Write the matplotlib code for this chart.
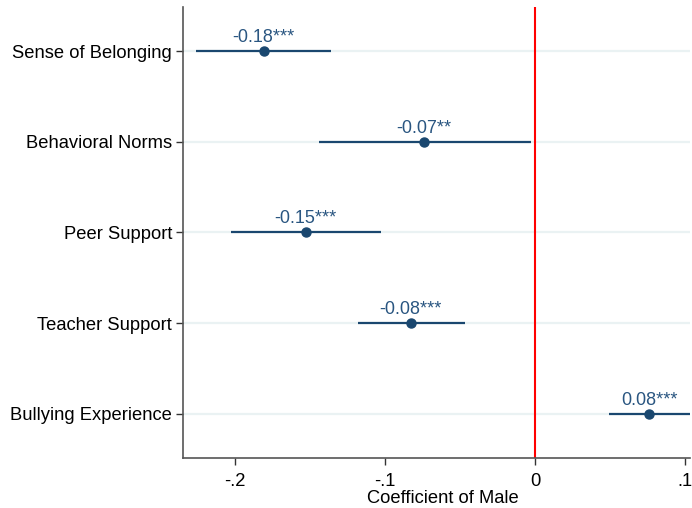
"""Coefficient plot: gender gap in school climate measures."""

import matplotlib
matplotlib.use("Agg")
import matplotlib.pyplot as plt

outcomes = ["Sense of Belonging", "Behavioral Norms", "Peer Support",
            "Teacher Support", "Bullying Experience"]
coef = [-0.181, -0.074, -0.153, -0.083, 0.076]
ci_low = [-0.226, -0.144, -0.203, -0.118, 0.049]
ci_high = [-0.136, -0.003, -0.103, -0.047, 0.104]
labels = ["-0.18***", "-0.07**", "-0.15***", "-0.08***", "0.08***"]

NAVY = "#1a476f"
LABEL_COL = "#2a5681"

plt.rcParams["font.family"] = ["Liberation Sans", "DejaVu Sans"]

fig = plt.figure(figsize=(6.92, 5.08), dpi=100)
ax = fig.add_axes([0.2645, 0.0984, 0.733, 0.888])

ypos = list(range(1, len(outcomes) + 1))

for y in ypos:
    ax.axhline(y, color="#eaf2f3", lw=1.6, zorder=0)

ax.axvline(0, color="red", lw=1.5, zorder=1)

ax.hlines(ypos, ci_low, ci_high, color=NAVY, lw=1.6, zorder=2)
ax.plot(coef, ypos, "o", color=NAVY, ms=6.5, zorder=3)

for x, y, lab in zip(coef, ypos, labels):
    ax.annotate(lab, (x, y), xytext=(0, 6.5),
                textcoords="offset points", ha="center", va="baseline",
                color=LABEL_COL, fontsize=13)

ax.set_xlim(-0.2347, 0.1033)
ax.set_ylim(5.49, 0.51)
ax.set_yticks(ypos)
ax.set_yticklabels(outcomes, fontsize=13.25)
ax.set_xticks([-0.2, -0.1, 0, 0.1])
ax.set_xticklabels(["-.2", "-.1", "0", ".1"], fontsize=13.25)
ax.set_xlabel("Coefficient of Male", fontsize=13.25)
ax.xaxis.set_label_coords(0.513, -0.072)

ax.spines["top"].set_visible(False)
ax.spines["right"].set_visible(False)
for side in ("left", "bottom"):
    ax.spines[side].set_color("#555555")
    ax.spines[side].set_linewidth(1.2)
ax.tick_params(axis="both", direction="out", length=5, width=1, color="#333333")
ax.tick_params(axis="y", pad=3)
ax.tick_params(axis="x", pad=6)

fig.savefig("out.png", dpi=100, facecolor="white")
